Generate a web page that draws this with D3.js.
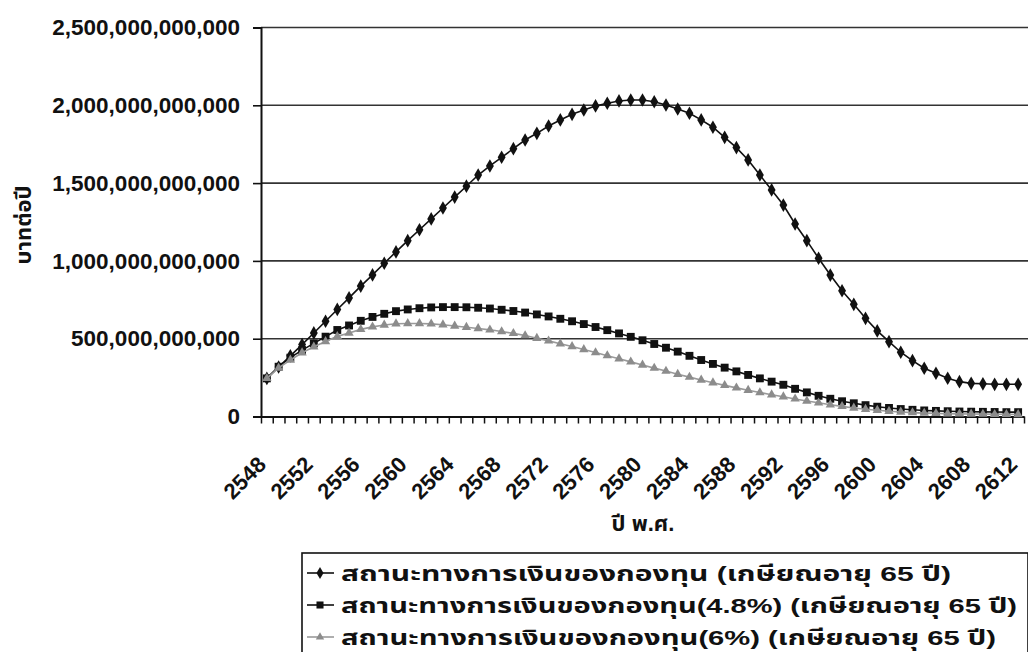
<!DOCTYPE html>
<html>
<head>
<meta charset="utf-8">
<script src="https://cdn.jsdelivr.net/npm/d3@7"></script>
<style>
  html, body { margin: 0; padding: 0; background: #fff; }
  svg { display: block; }
  text { font-family: "Liberation Sans", Arial, "Noto Sans Thai", "Tlwg Typist", sans-serif; font-weight: bold; fill: #111; }
</style>
</head>
<body>
<svg id="chart" width="1028" height="652"></svg>
<script>
// Buddhist-era years on the category axis
const years = d3.range(2548, 2613);

// Fund balance per year, billions of baht
const fundBase = [
  245, 318, 390, 462, 537, 612, 688, 762, 838, 910,
  985, 1058, 1130, 1200, 1270, 1340, 1410, 1480, 1552, 1610,
  1666, 1721, 1777, 1820, 1867, 1906, 1942, 1970, 1996, 2013,
  2028, 2034, 2034, 2023, 2002, 1976, 1949, 1906, 1859, 1794,
  1728, 1649, 1552, 1456, 1359, 1237, 1130, 1017, 909, 808,
  721, 631, 550, 481, 413, 359, 310, 278, 246, 224,
  213, 210, 207, 207, 207
];
const fund48 = [
  245, 320, 378, 427, 470, 513, 556, 585, 615, 640,
  660, 677, 688, 696, 701, 703, 703, 702, 699, 694,
  686, 678, 668, 656, 643, 628, 612, 594, 575, 555,
  534, 512, 490, 466, 442, 417, 390, 363, 338, 314,
  290, 267, 245, 224, 204, 178, 155, 133, 114, 98,
  85, 73, 63, 55, 48, 43, 39, 36, 34, 32,
  31, 30, 29, 28, 28
];
const fund6 = [
  245, 312, 363, 410, 448, 482, 515, 537, 560, 576,
  588, 596, 598, 598, 595, 590, 582, 574, 566, 557,
  546, 534, 520, 503, 486, 468, 450, 431, 411, 391,
  371, 351, 331, 311, 292, 272, 253, 235, 217, 200,
  184, 169, 154, 140, 127, 113, 100, 88, 76, 65,
  55, 47, 40, 34, 29, 25, 22, 20, 18, 17,
  16, 15, 14, 14, 13
];

const seriesNames = [
  "สถานะทางการเงินของกองทุน (เกษียณอายุ 65 ปี)",
  "สถานะทางการเงินของกองทุน(4.8%) (เกษียณอายุ 65 ปี)",
  "สถานะทางการเงินของกองทุน(6%) (เกษียณอายุ 65 ปี)"
];
const yTicks = [0, 500, 1000, 1500, 2000, 2500];
const xLabelYears = years.filter((y, i) => i % 4 === 0);
const yTitle = "บาทต่อปี";
const xTitle = "ปี พ.ศ.";

const series = [
  { name: seriesNames[0], values: fundBase, symbol: d3.symbolDiamond, size: 54, color: "#111", line: "#111" },
  { name: seriesNames[1], values: fund48, symbol: d3.symbolSquare, size: 62, color: "#111", line: "#111" },
  { name: seriesNames[2], values: fund6, symbol: d3.symbolTriangle, size: 38, color: "#8c8c8c", line: "#9a9a9a" }
];

const svg = d3.select("#chart");
const plot = { left: 261, right: 1024, top: 27.5, bottom: 416.5 };

const x = d3.scaleBand().domain(years).range([plot.left, plot.right]).paddingInner(0).paddingOuter(0);
const xEdge = d3.scaleLinear().domain([0, years.length]).range([plot.left, plot.right]);
const y = d3.scaleLinear().domain([0, 2500]).range([plot.bottom, plot.top]);
const cx = d => x(d) + x.bandwidth() / 2;
const fmtBaht = d3.format(",.0f");

// horizontal gridlines
svg.append("g")
  .selectAll("line")
  .data(yTicks.filter(t => t > 0))
  .join("line")
  .attr("x1", plot.left).attr("x2", plot.right + 4)
  .attr("y1", d => y(d)).attr("y2", d => y(d))
  .attr("stroke", "#333").attr("stroke-width", 1.6);

// y axis
const yAxis = svg.append("g")
  .attr("transform", `translate(${plot.left},0)`)
  .call(d3.axisLeft(y).tickValues(yTicks).tickSize(8).tickPadding(13)
    .tickFormat(d => fmtBaht(d * 1e9)));
yAxis.select(".domain").attr("stroke", "#111").attr("stroke-width", 2);
yAxis.selectAll(".tick line").attr("stroke", "#111").attr("stroke-width", 1.6);
yAxis.selectAll(".tick text").style("font-size", "22.5px").attr("fill", "#111");

// x axis: tick marks sit between categories
const xAxis = svg.append("g")
  .attr("transform", `translate(0,${plot.bottom})`)
  .call(d3.axisBottom(xEdge).tickValues(d3.range(0, years.length + 1)).tickSize(7).tickFormat("").tickSizeOuter(0));
xAxis.select(".domain").attr("stroke", "#111").attr("stroke-width", 2);
xAxis.selectAll(".tick line").attr("stroke", "#111").attr("stroke-width", 1.5);

// category labels every fourth year, rotated
const xLab = svg.append("g")
  .attr("transform", `translate(0,${plot.bottom})`)
  .call(d3.axisBottom(x).tickValues(xLabelYears).tickSize(0).tickPadding(0));
xLab.select(".domain").remove();
xLab.selectAll(".tick text")
  .style("font-size", "22px")
  .attr("fill", "#111")
  .attr("text-anchor", "end")
  .attr("dy", "0.35em")
  .attr("transform", "translate(-5,44) rotate(-45)");

// series lines and markers
const line = d3.line().x((d, i) => cx(years[i])).y(d => y(d));
series.forEach(s => {
  svg.append("path")
    .datum(s.values)
    .attr("d", line)
    .attr("fill", "none")
    .attr("stroke", s.line)
    .attr("stroke-width", 1.6);
  svg.append("g")
    .selectAll("path")
    .data(s.values)
    .join("path")
    .attr("d", d3.symbol().type(s.symbol).size(s.size))
    .attr("transform", (d, i) => `translate(${cx(years[i])},${y(d)})`)
    .attr("fill", s.color);
});

// axis titles
svg.append("text")
  .attr("transform", "translate(31,225) rotate(-90)")
  .attr("text-anchor", "middle")
  .style("font-size", "22px")
  .text(yTitle);
svg.append("text")
  .attr("x", 643).attr("y", 531)
  .attr("text-anchor", "middle")
  .style("font-size", "22px")
  .text(xTitle);

// legend
const legendTextWidths = [610, 676, 655];
const legend = svg.append("g").attr("transform", "translate(302,553)");
legend.append("rect")
  .attr("x", 0).attr("y", 0).attr("width", 726).attr("height", 110)
  .attr("fill", "#fff").attr("stroke", "#111").attr("stroke-width", 1.6);
series.forEach((s, i) => {
  const row = legend.append("g").attr("transform", `translate(0,${20 + i * 32})`);
  row.append("line").attr("x1", 5).attr("x2", 32).attr("y1", 0).attr("y2", 0)
    .attr("stroke", s.line).attr("stroke-width", 1.6);
  row.append("path")
    .attr("d", d3.symbol().type(s.symbol).size(s.size * 0.8))
    .attr("transform", "translate(18,0)")
    .attr("fill", s.color);
  row.append("text")
    .attr("x", 39).attr("y", 0).attr("dy", "0.36em")
    .style("font-size", "21px")
    .attr("textLength", legendTextWidths[i])
    .attr("lengthAdjust", "spacingAndGlyphs")
    .text(s.name);
});
</script>
</body>
</html>
